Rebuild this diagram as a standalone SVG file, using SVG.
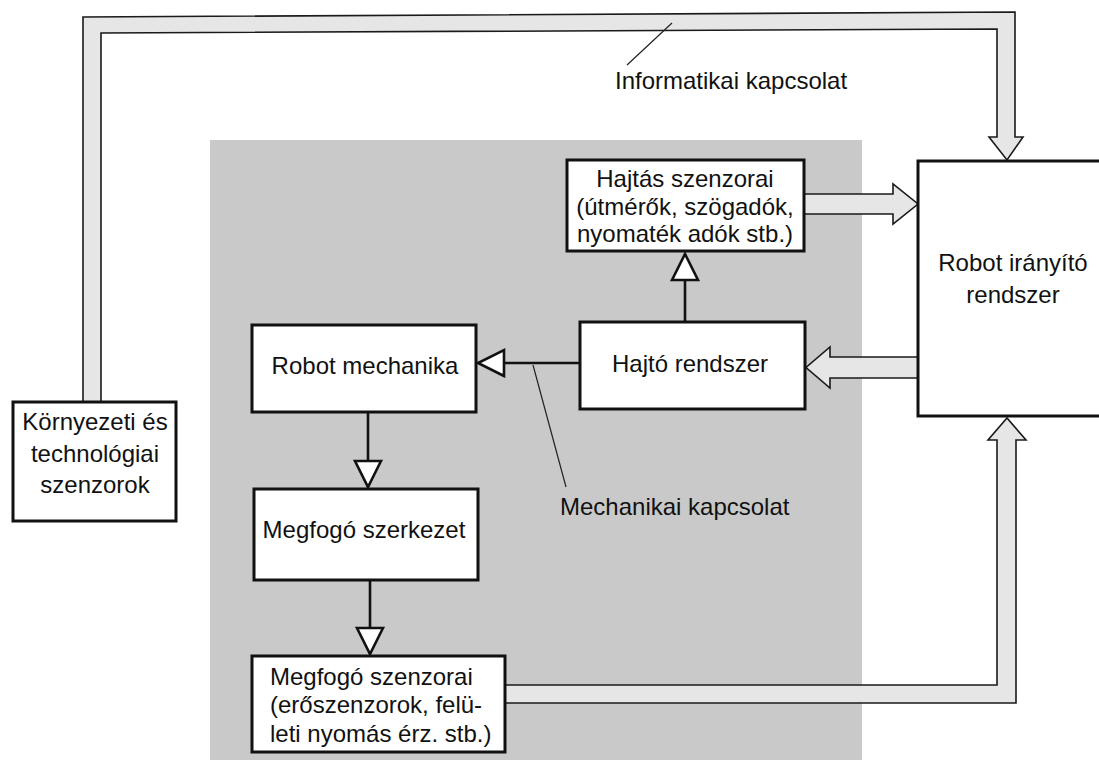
<svg xmlns="http://www.w3.org/2000/svg" width="1099" height="760" viewBox="0 0 1099 760">
<style>
  .box { fill: #ffffff; stroke: #111111; stroke-width: 3; }
  .bar { fill: #e6e6e6; stroke: #1a1a1a; stroke-width: 1.6; stroke-linejoin: miter; }
  .conn { fill: none; stroke: #111111; stroke-width: 2.6; }
  .lead { fill: none; stroke: #222222; stroke-width: 1.2; }
  text { font-family: "Liberation Sans", Arial, Helvetica, sans-serif; font-size: 24px; fill: #111111; }
  .c { text-anchor: middle; }
</style>
<defs>
  <marker id="tri" viewBox="-3 -3 32 32" refX="26" refY="13" markerWidth="32" markerHeight="32" markerUnits="userSpaceOnUse" orient="auto">
    <path d="M0,0 L26,13 L0,26 Z" fill="#ffffff" stroke="#111111" stroke-width="2.6" stroke-linejoin="miter"/>
  </marker>
</defs>

<rect id="mechanical-area" x="210" y="140" width="652" height="620" fill="#c9c9c9"/>

<g id="connectors">
  <!-- Informatikai kapcsolat loop: Környezeti -> top -> Robot irányító -->
  <path class="bar" d="M83,402 L83,17 L1015,12 L1015,137 L1023,137 L1007,160 L989,137 L997,137 L997,29 L101,33 L101,402"/>
  <!-- Hajtás szenzorai -> Robot irányító -->
  <path class="bar" d="M805,194 L893,194 L893,184 L918,204 L893,224 L893,214 L805,214"/>
  <!-- Robot irányító -> Hajtó rendszer -->
  <path class="bar" d="M918,357 L830,357 L830,347 L806,367.5 L830,388 L830,378 L918,378"/>
  <!-- Megfogó szenzorai -> Robot irányító -->
  <path class="bar" d="M505,685 L997,685 L997,440 L988,440 L1007,418 L1026,440 L1016,440 L1016,703 L505,703"/>
  <!-- mechanical connections -->
  <line class="conn" x1="685" y1="322" x2="685" y2="254" marker-end="url(#tri)"/>
  <line class="conn" x1="580" y1="363" x2="478" y2="363" marker-end="url(#tri)"/>
  <line class="conn" x1="368" y1="412" x2="368" y2="487" marker-end="url(#tri)"/>
  <line class="conn" x1="370" y1="580" x2="370" y2="654" marker-end="url(#tri)"/>
  <!-- label leaders -->
  <line class="lead" x1="672" y1="23" x2="627" y2="65"/>
  <line class="lead" x1="533" y1="365" x2="566" y2="487"/>
</g>

<g id="label-informatikai">
  <text x="615" y="89">Informatikai kapcsolat</text>
</g>
<g id="label-mechanikai">
  <text x="560" y="515">Mechanikai kapcsolat</text>
</g>

<g id="node-kornyezeti">
  <rect class="box" x="13" y="402" width="163" height="119"/>
  <text class="c" x="95" y="430">Környezeti és</text>
  <text class="c" x="95" y="462">technológiai</text>
  <text class="c" x="95" y="493">szenzorok</text>
</g>

<g id="node-hajtas-szenzorai">
  <rect class="box" x="567" y="160" width="237" height="91"/>
  <text class="c" x="685" y="187">Hajtás szenzorai</text>
  <text class="c" x="685" y="215">(útmérők, szögadók,</text>
  <text class="c" x="685" y="242">nyomaték adók stb.)</text>
</g>

<g id="node-hajto-rendszer">
  <rect class="box" x="580" y="322" width="225" height="87"/>
  <text class="c" x="690" y="372">Hajtó rendszer</text>
</g>

<g id="node-robot-mechanika">
  <rect class="box" x="252" y="325" width="224" height="87"/>
  <text class="c" x="365" y="374">Robot mechanika</text>
</g>

<g id="node-megfogo-szerkezet">
  <rect class="box" x="254" y="489" width="224" height="91"/>
  <text class="c" x="364" y="538">Megfogó szerkezet</text>
</g>

<g id="node-megfogo-szenzorai">
  <rect class="box" x="252" y="656" width="253" height="96"/>
  <text x="270" y="685">Megfogó szenzorai</text>
  <text x="270" y="713">(erőszenzorok, felü-</text>
  <text x="270" y="742">leti nyomás érz. stb.)</text>
</g>

<g id="node-robot-iranyito">
  <rect class="box" x="918" y="161" width="200" height="255"/>
  <text class="c" x="1013" y="271">Robot irányító</text>
  <text class="c" x="1013" y="303">rendszer</text>
</g>
</svg>
